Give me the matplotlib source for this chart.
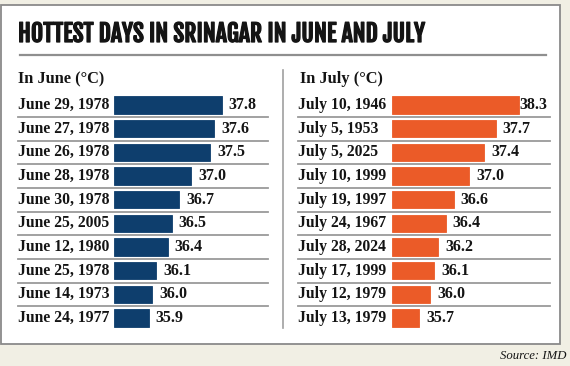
import matplotlib
matplotlib.use("Agg")
import matplotlib.pyplot as plt
from matplotlib import font_manager
from matplotlib.patches import Rectangle
from matplotlib.lines import Line2D
from matplotlib.transforms import blended_transform_factory
import matplotlib.patheffects as pe

# ---------------- data ----------------
title = "HOTTEST DAYS IN SRINAGAR IN JUNE AND JULY"
june_heading = "In June (°C)"
july_heading = "In July (°C)"
june_dates = ["June 29, 1978", "June 27, 1978", "June 26, 1978", "June 28, 1978",
              "June 30, 1978", "June 25, 2005", "June 12, 1980", "June 25, 1978",
              "June 14, 1973", "June 24, 1977"]
june_temps = [37.8, 37.6, 37.5, 37.0, 36.7, 36.5, 36.4, 36.1, 36.0, 35.9]
july_dates = ["July 10, 1946", "July 5, 1953", "July 5, 2025", "July 10, 1999",
              "July 19, 1997", "July 24, 1967", "July 28, 2024", "July 17, 1999",
              "July 12, 1979", "July 13, 1979"]
july_temps = [38.3, 37.7, 37.4, 37.0, 36.6, 36.4, 36.2, 36.1, 36.0, 35.7]
source = "Source: IMD"

# ---------------- style ----------------
W, H = 570, 366
DPI = 100
BG = "#f1efe4"
NAVY = "#0e3e6d"
ORANGE = "#eb5b28"
TEXT = "#141414"
GRID = "#9a9a9a"


def pick(names):
    for nm in names:
        try:
            font_manager.findfont(font_manager.FontProperties(family=nm),
                                  fallback_to_default=False)
            return nm
        except Exception:
            pass
    return "DejaVu Sans"


TITLE_FONT = pick(["Fjalla One", "Oswald", "Barlow Condensed", "Roboto Condensed",
                   "Archivo Narrow", "Asap Condensed", "Liberation Sans Narrow", "Roboto"])
SERIF = pick(["Liberation Serif", "DejaVu Serif"])

fig = plt.figure(figsize=(W / DPI, H / DPI), dpi=DPI)
fig.patch.set_facecolor(BG)


def fx(px):
    return px / W


def fy(py):
    return 1 - py / H


# white card
card = Rectangle((fx(1), fy(344)), fx(560) - fx(1), fy(5) - fy(344),
                 transform=fig.transFigure, facecolor="white",
                 edgecolor="#8a8a8a", linewidth=1.3, zorder=-10)
fig.patches.append(card)

# title, fitted to the reference's width
t = fig.text(fx(18), fy(34), title, family=TITLE_FONT, weight="bold", fontsize=20,
             color=TEXT, va="center", ha="left")
renderer = fig.canvas.get_renderer()
w = t.get_window_extent(renderer).width
t.set_fontsize(20 * (424 - 18) / w)
t.set_path_effects([pe.withStroke(linewidth=0.9, foreground=TEXT)])

fig.add_artist(Line2D([fx(20), fx(546)], [fy(54.5), fy(54.5)], color="#8f8f8f",
                      lw=1.6, transform=fig.transFigure))

# divider
fig.add_artist(Line2D([fx(283), fx(283)], [fy(70), fy(328)], color="#a0a0a0",
                      lw=1.2, transform=fig.transFigure))

# headings
fig.text(fx(18), fy(79), june_heading, family=SERIF, weight="bold", fontsize=11.8,
         color=TEXT, va="center", ha="left")
fig.text(fx(300), fy(79), july_heading, family=SERIF, weight="bold", fontsize=11.8,
         color=TEXT, va="center", ha="left")

# source
fig.text(fx(567), fy(356), source, family=SERIF, style="italic", fontsize=9.2,
         color=TEXT, va="center", ha="right")

# panels
ROW0, ROWN = 105.0, 318.0
n = len(june_temps)
step = (ROWN - ROW0) / (n - 1)
top_px = ROW0 - step / 2
bot_px = ROWN + step / 2
XMIN = 35.0
PX_PER_DEG = 38.45


def panel(x0_px, line_start_px, line_end_px, label_max_px, dates, temps, color):
    width_px = line_end_px - x0_px
    ax = fig.add_axes([fx(x0_px), fy(bot_px), width_px / W, (bot_px - top_px) / H])
    ax.set_xlim(XMIN, XMIN + width_px / PX_PER_DEG)
    ax.set_ylim(n - 0.5, -0.5)
    ax.axis("off")
    ys = list(range(n))
    ax.barh(ys, [v - XMIN for v in temps], left=XMIN, height=0.72, color=color,
            edgecolor=color, linewidth=0.6)
    tr = blended_transform_factory(fig.transFigure, ax.transData)
    for i in range(n - 1):
        ax.add_line(Line2D([fx(line_start_px), fx(line_end_px)], [i + 0.5, i + 0.5],
                           transform=tr, color=GRID, lw=1.3, clip_on=False))
    for i, (d, v) in enumerate(zip(dates, temps)):
        ax.text(fx(line_start_px), i, d, transform=tr, family=SERIF, weight="bold",
                fontsize=11.3, color=TEXT, va="center", ha="left")
        lx = min(v + 7 / PX_PER_DEG, XMIN + (label_max_px - x0_px) / PX_PER_DEG)
        ax.text(lx, i, f"{v:.1f}", family=SERIF, weight="bold", fontsize=11.5,
                color=TEXT, va="center", ha="left", clip_on=False)
    return ax


panel(114, 18, 268, 519, june_dates, june_temps, NAVY)
panel(392, 298, 550, 519, july_dates, july_temps, ORANGE)

fig.savefig("out.png", dpi=DPI, facecolor=BG)
